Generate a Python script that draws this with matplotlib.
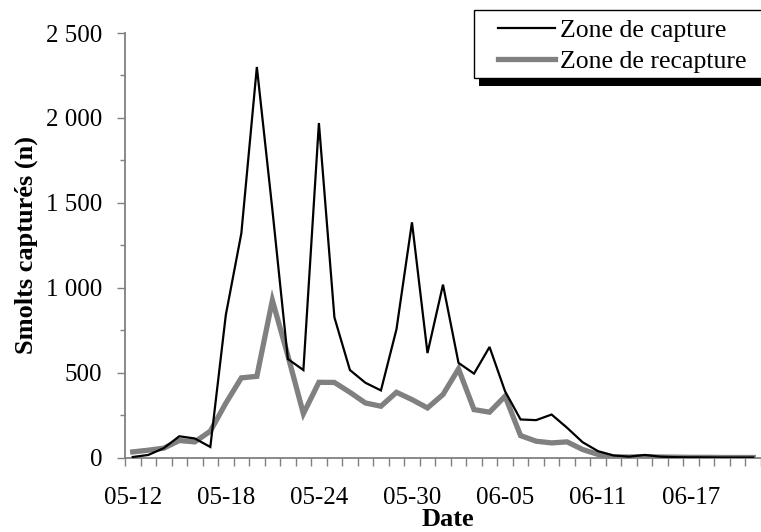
import matplotlib
matplotlib.use("Agg")
import matplotlib.pyplot as plt
from matplotlib.patches import Rectangle
from matplotlib.ticker import FixedLocator, FuncFormatter
import pandas as pd

# Daily smolt catches, 12 May to 21 June
dates = pd.date_range("2000-05-12", periods=41, freq="D").strftime("%m-%d").tolist()
capture = [3, 15, 55, 125, 112, 62, 840, 1320, 2300, 1460, 580, 515,
           1970, 825, 515, 440, 395, 755, 1385, 615, 1018, 557, 494, 651,
           390, 224, 220, 253, 175, 90, 37, 12, 5, 15, 5, 2, 1, 1, 0, 0, 0]
recapture = [33, 43, 55, 100, 92, 155, 320, 469, 478, 926, 600, 258,
             443, 442, 384, 321, 302, 384, 341, 292, 371, 522, 282, 267,
             361, 129, 96, 86, 92, 47, 18, 3, 3, 5, 3, 2, 1, 1, 0, 0, 0]
series_names = ["Zone de capture", "Zone de recapture"]
label_step = 6

plt.rcParams["font.family"] = ["Liberation Serif", "DejaVu Serif"]

W, H = 761, 532
fig = plt.figure(figsize=(W / 100, H / 100), dpi=100)
ax = fig.add_axes([125 / W, 1 - 457.5 / H, (761 - 125) / W, (457.5 - 33) / H])

x = list(range(len(dates)))
grey = "#808080"
l2, = ax.plot(x, recapture, color=grey, lw=3.8, solid_joinstyle="miter", zorder=2)
l1, = ax.plot(x, capture, color="black", lw=1.6, solid_joinstyle="miter", zorder=3)

ax.set_xlim(-0.5, len(dates) - 0.5)
ax.set_ylim(0, 2500)

for s in ["top", "right"]:
    ax.spines[s].set_visible(False)
for s in ["left", "bottom"]:
    ax.spines[s].set_color(grey)
    ax.spines[s].set_linewidth(1.3)

# x axis: day boundaries as ticks, labels every 6 days
ax.set_xticks(x[::label_step])
ax.set_xticklabels(dates[::label_step])
ax.xaxis.set_minor_locator(FixedLocator([i - 0.5 for i in range(len(dates) + 1)]))
ax.tick_params(axis="x", which="major", length=0, pad=21.5, labelsize=18)
ax.tick_params(axis="x", which="minor", length=5.8, width=1.0, color=grey, direction="out")

# y axis with space thousands separator
ax.set_yticks(range(0, 2501, 500))
ax.yaxis.set_minor_locator(FixedLocator(range(250, 2500, 500)))
ax.yaxis.set_major_formatter(FuncFormatter(lambda v, p: f"{v:,.0f}".replace(",", " ")))
ax.tick_params(axis="y", which="major", length=5.8, width=1.0, color=grey, pad=10.5, labelsize=18)
ax.tick_params(axis="y", which="minor", length=3.6, width=1.0, color=grey)

fig.text(26 / W, 1 - 245 / H, "Smolts capturés (n)", rotation=90, ha="center", va="center",
         fontsize=19, fontweight="bold")
fig.text(448 / W, 1 - 526 / H, "Date", ha="center", va="baseline",
         fontsize=19, fontweight="bold")

# Legend box with a solid drop shadow
bx0, by0, bx1, by1 = 474, 10, 763, 78
fig.add_artist(Rectangle(((bx0 + 5) / W, 1 - (by1 + 8) / H), (bx1 - bx0) / W, (by1 - by0) / H,
                         transform=fig.transFigure, facecolor="black", edgecolor="none", zorder=3))
fig.add_artist(Rectangle((bx0 / W, 1 - by1 / H), (bx1 - bx0) / W, (by1 - by0) / H,
                         transform=fig.transFigure, facecolor="white", edgecolor="black",
                         lw=1.0, zorder=4))
leg = fig.legend([l1, l2], series_names, loc="center left",
                 bbox_to_anchor=(498 / W, 1 - 46 / H), frameon=False,
                 borderpad=0, borderaxespad=0, handlelength=2.2, handletextpad=0.2,
                 labelspacing=0.32, fontsize=18.5)
leg.set_zorder(5)

fig.savefig("out.png", dpi=100)
